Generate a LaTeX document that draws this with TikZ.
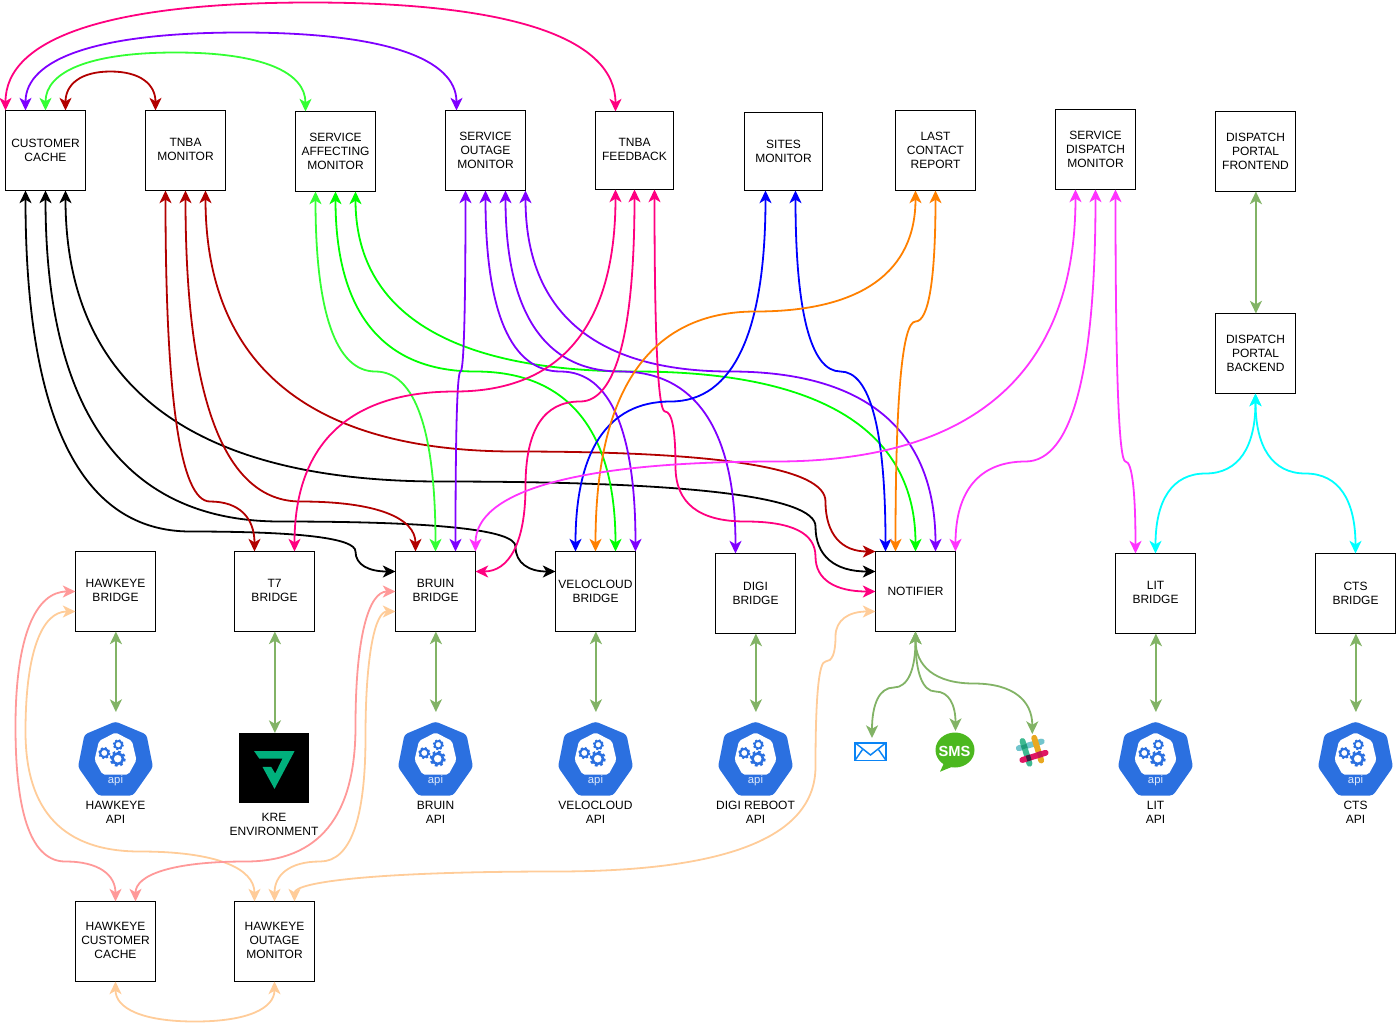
\documentclass[tikz,border=0pt]{standalone}
\usepackage{fontspec}
\setmainfont{Liberation Sans}
\usetikzlibrary{calc,arrows.meta}
\definecolor{cRed}{HTML}{B20000}
\definecolor{cLime}{HTML}{33FF33}
\definecolor{cGreen}{HTML}{00FF00}
\definecolor{cPurple}{HTML}{7F00FF}
\definecolor{cPink}{HTML}{FF0080}
\definecolor{cBlue}{HTML}{0000FF}
\definecolor{cOrange}{HTML}{FF8000}
\definecolor{cMagenta}{HTML}{FF33FF}
\definecolor{cCyan}{HTML}{00FFFF}
\definecolor{cSoft}{HTML}{82B366}
\definecolor{cSalmon}{HTML}{FF9999}
\definecolor{cPeach}{HTML}{FFCC99}
\definecolor{cKube}{HTML}{2B70E0}
\definecolor{cKre}{HTML}{00B07C}
\definecolor{cMail}{HTML}{0A84F5}
\definecolor{cSms}{HTML}{4CB81F}
\definecolor{cSlackA}{HTML}{72C5CD}
\definecolor{cSlackB}{HTML}{3EB991}
\definecolor{cSlackC}{HTML}{E9A820}
\definecolor{cSlackD}{HTML}{E01563}
\definecolor{cSlackE}{HTML}{1F9A79}
\definecolor{cSlackF}{HTML}{3E1F3F}
\definecolor{cSlackG}{HTML}{C41A52}
\tikzset{
  wire/.style={line width=1.35pt,
    {Stealth[length=9.5pt,width=9pt,inset=2.6pt]}-{Stealth[length=9.5pt,width=9pt,inset=2.6pt]}},
  softline/.style={wire,cSoft,transform canvas={xshift=0.3pt}},
  boxnode/.style={draw=black,line width=0.75pt,fill=white,inner sep=0pt,outer sep=0pt,
    align=center,font=\fontsize{9}{10.5}\selectfont,anchor=north west},
  lbl/.style={inner sep=0pt,align=center,font=\fontsize{9}{10.5}\selectfont},
  slackbar/.style={line cap=round,line width=4.4pt}
}
% a box with its connection pins
\newcommand\bx[6]{%
  \node[boxnode,minimum width=#4*0.75pt,minimum height=#5*0.75pt] (#1) at (#2,#3) {#6\\[-9.5pt]\mbox{}};
  \foreach \k in {0,10,11,19,20,21,39,40,51,59,60,80}{%
    \coordinate (#1-T\k) at ($(#1.north west)+(\k,0)$);
    \coordinate (#1-B\k) at ($(#1.south west)+(\k,0)$);
    \coordinate (#1-L\k) at ($(#1.north west)+(0,\k)$);
    \coordinate (#1-R\k) at ($(#1.north east)+(0,\k)$);
  }}
% spline pieces: control point, then next control point (to the midpoint) or end point
\newcommand\qm[2]{.. controls ($(p)!2/3!(#1)$) and ($($(#1)!.5!(#2)$)!2/3!(#1)$) .. ($(#1)!.5!(#2)$) coordinate (p)}
\newcommand\qe[2]{.. controls ($(p)!2/3!(#1)$) and ($(#2)!2/3!(#1)$) .. (#2)}
\newcommand\gear[3]{% x y outer radius
  \draw[cKube,line width=#3*0.24pt] (#1,#2) circle ({#3*0.66});
  \pgfmathsetmacro\dl{2*pi*#3*0.86*0.75/16}
  \draw[cKube,line width=#3*0.22pt,dash pattern=on \dl pt off \dl pt] (#1,#2) circle ({#3*0.86});
}
\newcommand\apiicon[3]{% name, x, label
  \begin{scope}[shift={(#2,759.5)}]
    \fill[cKube,rounded corners=2.4pt] (0,-38.5) -- (31,-25.5) -- (37.5,7) -- (17.5,35.5) -- (-17.5,35.5) -- (-37.5,7) -- (-31,-25.5) -- cycle;
    \fill[white,rounded corners=1.5pt] (0,-27.5) -- (16.5,-19) -- (21,0) -- (13,14.5) -- (-13,14.5) -- (-21,0) -- (-16.5,-19) -- cycle;
    \gear{2.2}{-1.3}{8}
    \gear{-11.2}{-7}{6.2}
    \gear{2.8}{-15.3}{5.6}
    \node[inner sep=0pt,text=white!85!cKube,font=\fontsize{8.5}{9}\selectfont] at (0,20.5) {api};
  \end{scope}
  \coordinate (#1) at (#2,711.5);
  \node[lbl] (#1-text) at (#2,811.5) {#3};
}
\begin{document}
\begin{tikzpicture}[x=0.75pt,y=-0.75pt]
\useasboundingbox (0,0) rectangle (1396,1022);
\begin{scope}[shift={(0.5,0.5)}]
% boxes
\bx{cc}{5}{110}{80}{80}{CUSTOMER\\CACHE}
\bx{tm}{145}{110}{80}{80}{TNBA\\MONITOR}
\bx{sam}{295}{111}{80}{80}{SERVICE\\AFFECTING\\MONITOR}
\bx{som}{445}{110}{80}{80}{SERVICE\\OUTAGE\\MONITOR}
\bx{tf}{595}{111}{78}{78}{TNBA\\FEEDBACK}
\bx{sit}{744}{112}{78}{78}{SITES\\MONITOR}
\bx{lc}{895}{110}{80}{80}{LAST\\CONTACT\\REPORT}
\bx{sdm}{1055}{109}{80}{80}{SERVICE\\DISPATCH\\MONITOR}
\bx{dpf}{1215}{111}{80}{80}{DISPATCH\\PORTAL\\FRONTEND}
\bx{dpb}{1215}{313}{80}{80}{DISPATCH\\PORTAL\\BACKEND}
\bx{hb}{75}{551}{80}{80}{HAWKEYE\\BRIDGE}
\bx{t7}{234}{551}{80}{80}{T7\\BRIDGE}
\bx{br}{395}{551}{80}{80}{BRUIN\\BRIDGE}
\bx{vc}{555}{551}{80}{80}{VELOCLOUD\\BRIDGE}
\bx{dg}{715}{553}{80}{80}{DIGI\\BRIDGE}
\bx{nt}{875}{551}{80}{80}{NOTIFIER}
\bx{lit}{1115}{553}{80}{80}{LIT\\BRIDGE}
\bx{cts}{1315}{553}{80}{80}{CTS\\BRIDGE}
\bx{hcc}{75}{901}{80}{80}{HAWKEYE\\CUSTOMER\\CACHE}
\bx{hom}{234}{901}{80}{80}{HAWKEYE\\OUTAGE\\MONITOR}
% API icons
\apiicon{ihb}{115}{HAWKEYE\\API}
\apiicon{ibr}{435}{BRUIN\\API}
\apiicon{ivc}{595}{VELOCLOUD\\API}
\apiicon{idg}{755}{DIGI REBOOT\\API}
\apiicon{ilit}{1155}{LIT\\API}
\apiicon{icts}{1355}{CTS\\API}
% KRE
\node[fill=black,minimum width=52.5pt,minimum height=52.5pt,inner sep=0pt,outer sep=0pt] (kre) at (273.5,767.5) {};
\fill[cKre] (253.7,750.7) -- (294,750.7) -- (274,788.4) -- (262,766.4) -- (270.7,766.4) -- (274.7,773) -- (282,758) -- (258.7,758) -- cycle;
\node[lbl] (kre-text) at (273.5,823.5) {KRE\\ENVIRONMENT};
\coordinate (kre-top) at (274,732.5);
% mail
\node[draw=cMail,fill=white,line width=1.2pt,minimum width=23.2pt,minimum height=13.2pt,inner sep=0pt,outer sep=0pt] (mail) at (870,751) {};
\draw[cMail,line width=1.1pt] (mail.north west) -- (870,754.5) -- (mail.north east);
\draw[cMail,line width=1.1pt] (mail.south west) -- (862,749) (mail.south east) -- (878,749);
\coordinate (mail-top) at (871.5,737.5);
% sms
\fill[cSms] (954.5,749.5) ellipse (19.5 and 17.5);
\fill[cSms] (944,761.5) -- (939.5,771.2) -- (956,764.5) -- cycle;
\node[inner sep=0pt,text=white,font=\fontsize{11}{12}\selectfont\bfseries] (sms) at (954,750.5) {SMS};
\coordinate (sms-top) at (955,730.5);
% slack
\draw[slackbar,cSlackA] (1018.3,747.7) -- (1041.2,741);
\draw[slackbar,cSlackB] (1022,740.5) -- (1029,763.2);
\draw[slackbar,cSlackC] (1033.7,737.3) -- (1040.7,760);
\draw[slackbar,cSlackD] (1021.8,759.5) -- (1045.1,752.3);
\draw[line width=4.4pt,cSlackE] (1023.1,744.3) -- (1024.4,748.1);
\draw[line width=4.4pt,cSlackF] (1026,758.1) -- (1030.3,756.8);
\draw[line width=4.4pt,cSlackG] (1037.1,754.6) -- (1041.4,753.3);
\coordinate (slack-top) at (1031.8,733.5);
% top arcs
\draw[wire,cPink] (cc-T0) coordinate (p) \qm{5,2}{615,2} \qe{615,2}{tf-T20};
\draw[wire,cPurple] (cc-T20) coordinate (p) \qm{25,32}{456,32} \qe{456,32}{som-T11};
\draw[wire,cLime] (cc-T40) coordinate (p) \qm{45,52}{305,52} \qe{305,52}{sam-T10};
\draw[wire,cRed] (cc-T60) coordinate (p) \qm{65,71}{155,71} \qe{155,71}{tm-T10};
% customer cache
\draw[wire,black] (cc-B20) coordinate (p) \qm{25,531}{355,531} \qm{355,531}{355,571} \qe{355,571}{br-L20};
\draw[wire,black] (cc-B40) coordinate (p) \qm{45,521}{515,521} \qm{515,521}{515,571} \qe{515,571}{vc-L20};
\draw[wire,black] (cc-B60) coordinate (p) \qm{65,481}{815,481} \qm{815,481}{815,571} \qe{815,571}{nt-L20};
% tnba monitor
\draw[wire,cRed] (tm-B20) coordinate (p) \qm{165,501}{254,501} \qe{254,501}{t7-T20};
\draw[wire,cRed] (tm-B40) coordinate (p) \qm{185,501}{415,501} \qe{415,501}{br-T20};
\draw[wire,cRed] (tm-B60) coordinate (p) \qm{205,451}{825,451} \qm{825,451}{825,551} \qe{825,551}{nt-L0};
% service affecting
\draw[wire,cLime] (sam-B20) coordinate (p) \qm{315,371}{435,371} \qe{435,371}{br-T40};
\draw[wire,cGreen] (sam-B40) coordinate (p) \qm{335,371}{615,371} \qe{615,371}{vc-T60};
\draw[wire,cGreen] (sam-B60) coordinate (p) \qm{355,371}{915,371} \qe{915,371}{nt-T40};
% service outage
\draw[wire,cPurple] (som-B20) coordinate (p) \qm{465,371}{455,371} \qe{455,371}{br-T60};
\draw[wire,cPurple] (som-B40) coordinate (p) \qm{485,371}{635,371} \qe{635,371}{vc-T80};
\draw[wire,cPurple] (som-B60) coordinate (p) \qm{505,371}{735,371} \qe{735,371}{dg-T20};
\draw[wire,cPurple] (som-B80) coordinate (p) \qm{525,371}{935,371} \qe{935,371}{nt-T60};
% tnba feedback
\draw[wire,cPink] (tf-B20) coordinate (p) \qm{615,391}{294,391} \qe{294,391}{t7-T60};
\draw[wire,cPink] (tf-B39) coordinate (p) \qm{634,401}{525,401} \qm{525,401}{525,571} \qe{525,571}{br-R20};
\draw[wire,cPink] (tf-B59) coordinate (p) \qm{654,411}{675,411} \qm{675,411}{675,521} \qm{675,521}{815,521} \qm{815,521}{815,591} \qe{815,591}{nt-L40};
% sites
\draw[wire,cBlue] (sit-B21) coordinate (p) \qm{765,401}{575,401} \qe{575,401}{vc-T20};
\draw[wire,cBlue] (sit-B51) coordinate (p) \qm{795,371}{885,371} \qe{885,371}{nt-T10};
% last contact
\draw[wire,cOrange] (lc-B20) coordinate (p) \qm{915,311}{595,311} \qe{595,311}{vc-T40};
\draw[wire,cOrange] (lc-B40) coordinate (p) \qm{935,321}{895,321} \qe{895,321}{nt-T20};
% service dispatch
\draw[wire,cMagenta] (sdm-B20) coordinate (p) \qm{1075,461}{475,461} \qe{475,461}{br-T80};
\draw[wire,cMagenta] (sdm-B40) coordinate (p) \qm{1095,461}{955,461} \qe{955,461}{nt-T80};
\draw[wire,cMagenta] (sdm-B60) coordinate (p) \qm{1115,461}{1135,461} \qe{1135,461}{lit-T20};
% dispatch portal
\draw[softline] (dpf) -- (dpb);
\draw[wire,cCyan] (dpb-B40) coordinate (p) \qm{1255,473}{1155,473} \qe{1155,473}{lit-T40};
\draw[wire,cCyan] (dpb-B40) coordinate (p) \qm{1255,473}{1355,473} \qe{1355,473}{cts-T40};
% bridge to api
\draw[softline] (hb-B40) -- (ihb);
\draw[softline] (t7-B40) -- (kre-top);
\draw[softline] (br-B40) -- (ibr);
\draw[softline] (vc-B40) -- (ivc);
\draw[softline] (dg-B40) -- (idg);
\draw[softline] (lit-B40) -- (ilit);
\draw[softline] (cts-B40) -- (icts);
% notifier channels
\draw[wire,cSoft] (nt-B40) coordinate (p) \qm{915,687}{871.5,687} \qe{871.5,687}{mail-top};
\draw[wire,cSoft] (nt-B40) coordinate (p) \qm{915,691}{955,691} \qe{955,691}{sms-top};
\draw[wire,cSoft] (nt-B40) coordinate (p) \qm{915,683}{1031.8,683} \qe{1031.8,683}{slack-top};
% hawkeye
\draw[wire,cSalmon] (hb-L40) coordinate (p) \qm{15,591}{15,861} \qm{15,861}{115,861} \qe{115,861}{hcc-T40};
\draw[wire,cPeach] (hb-L60) coordinate (p) \qm{25,611}{25,851} \qm{25,851}{254,851} \qe{254,851}{hom-T20};
\draw[wire,cSalmon] (br-L40) coordinate (p) \qm{355,591}{355,861} \qm{355,861}{135,861} \qe{135,861}{hcc-T60};
\draw[wire,cPeach] (br-L60) coordinate (p) \qm{365,611}{365,861} \qm{365,861}{274,861} \qe{274,861}{hom-T40};
\draw[wire,cPeach] (nt-L60) coordinate (p) \qm{835,611}{835,661} \qm{835,661}{815,661} \qm{815,661}{815,871} \qm{815,871}{294,871} \qe{294,871}{hom-T60};
\draw[wire,cPeach] (hcc-B40) coordinate (p) \qm{115,1021}{274,1021} \qe{274,1021}{hom-B40};
\end{scope}
\end{tikzpicture}
\end{document}
